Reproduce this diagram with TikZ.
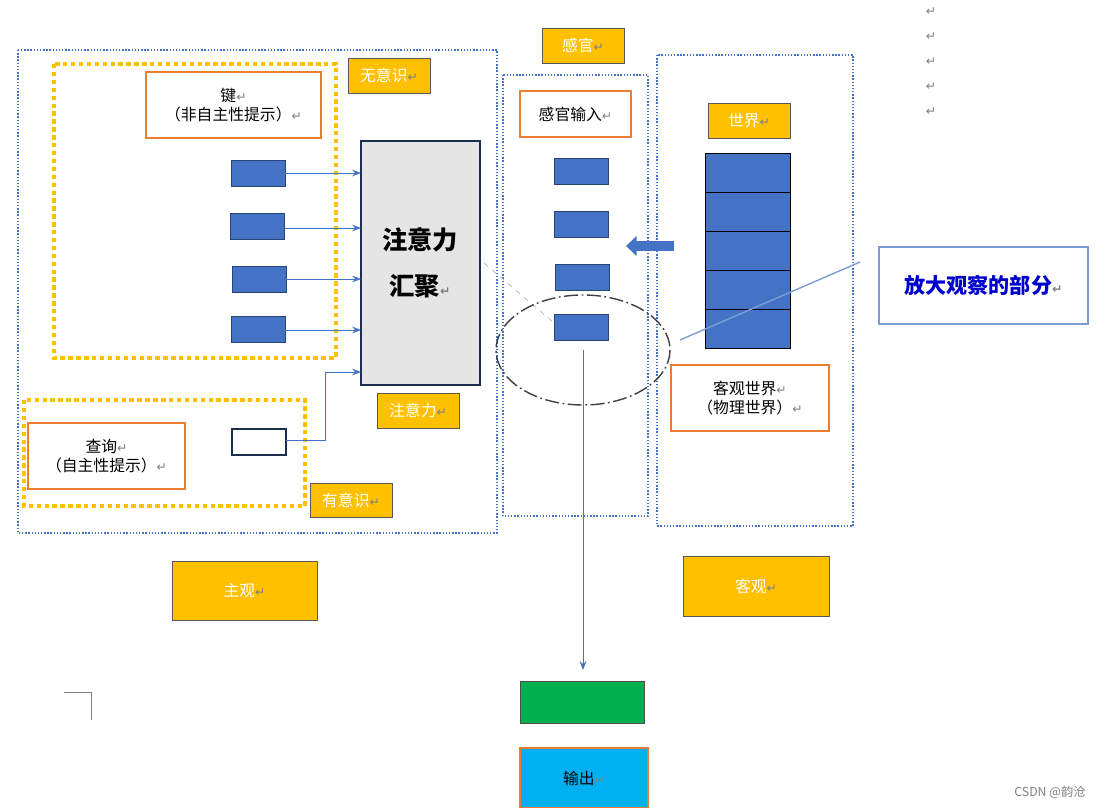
\documentclass[tikz,border=0pt]{standalone}
\usepackage{fontspec}
\setmainfont{Noto Sans CJK SC}
\newfontfamily\symfont{DejaVu Sans}
\usetikzlibrary{arrows.meta}
\definecolor{kblue}{RGB}{68,114,196}
\definecolor{kgold}{RGB}{255,192,0}
\definecolor{korange}{RGB}{237,125,49}
\definecolor{kgreen}{RGB}{0,176,80}
\definecolor{kcyan}{RGB}{0,176,240}
\newcommand{\rt}{{\symfont\color{gray}\scriptsize ↵}}
\tikzset{
  px/.style={x=0.02cm,y=-0.02cm},
  frame/.style={draw=kblue,densely dotted,thick},
  goldbox/.style={draw=kgold,line width=2.5pt,dotted},
  tag/.style={fill=kgold,draw=gray!70!black,font=\small,text=white},
  label/.style={draw=korange,thick,fill=white,align=center,font=\small},
  cell/.style={fill=kblue,draw=kblue!60!black},
  link/.style={kblue,-{Stealth[length=5pt]}}
}
\begin{document}
\begin{tikzpicture}[px]
\useasboundingbox (0,0) rectangle (1096,808);
% frames
\draw[frame] (18,50) rectangle (497,533);
\draw[frame] (503,75) rectangle (648,516);
\draw[frame] (657,55) rectangle (853,526);
\draw[goldbox] (54,64) rectangle (336,358);
\draw[goldbox] (24,400) rectangle (305,506);
% key side
\draw[label] (146,72) rectangle (321,138) node[pos=.5] {键\rt\\（非自主性提示）\rt};
\foreach \x/\y [count=\i] in {231/160,230/213,232/266,231/316}
  \draw[cell] (\x,\y) rectangle ++(54,26) coordinate (k\i);
\draw[fill=gray!20,draw=kblue!40!black,thick] (361,141) rectangle (480,385);
\node[font=\Large\bfseries,align=center] at (420,263) {注意力\\[8pt]汇聚\rt};
\foreach \y [count=\i] in {173,228,279,330}
  \draw[link] (285,\y) -- (361,\y);
% query side
\draw[label] (28,423) rectangle (185,489) node[pos=.5] {查询\rt\\（自主性提示）\rt};
\draw[fill=white,draw=kblue!40!black,thick] (232,429) rectangle (286,455);
\draw[link] (286,440) -- (325,440) -- (325,372) -- (361,372);
% tags
\foreach \a/\b/\c/\d/\t in {348/58/430/93/无意识,377/393/459/428/注意力,310/483/392/517/有意识,
  172/561/317/620/主观,542/28/624/63/感官,708/103/790/138/世界,683/556/829/616/客观}
  \draw[tag] (\a,\b) rectangle (\c,\d) node[pos=.5] {\t\rt};
% senses
\draw[label] (520,91) rectangle (631,137) node[pos=.5] {感官输入\rt};
\foreach \x/\y in {554/158,554/211,555/264,554/314}
  \draw[cell] (\x,\y) rectangle ++(54,26);
\draw[gray!60,dashed] (484,263) -- (553,322);
\draw[black!75,thick,dash pattern=on 8pt off 2pt on 1pt off 2pt] (583,350) ellipse (87 and 55);
\draw[link] (583,350) -- (583,670);
\draw[fill=kgreen,draw=black!70] (520,681) rectangle (644,723);
\draw[fill=kcyan,draw=korange,thick] (520,748) rectangle (648,808) node[pos=.5,font=\small] {输出\rt};
% world
\foreach \i in {0,...,4}
  \draw[cell,draw=black] (705,153+\i*39) rectangle ++(85,39);
\draw[kblue,line width=5.5pt,-{Triangle[length=6pt,width=11pt]}] (674,246) -- (626,246);
\draw[label] (671,365) rectangle (829,431) node[pos=.5] {客观世界\rt\\（物理世界）\rt};
% zoom note
\draw[kblue!70,thick,fill=white] (879,247) rectangle (1088,324)
  node[pos=.5,font=\large\bfseries,text=blue!80!black] {放大观察的部分\rt};
\draw[kblue!70,thick] (860,262) -- (680,340);
\draw[gray] (64,692) -- (91,692) -- (91,720);
\foreach \y in {12,37,62,87,112}
  \node at (931,\y) {\rt};
\node[font=\scriptsize,text=gray] at (1050,792) {CSDN @韵沧};
\end{tikzpicture}
\end{document}
